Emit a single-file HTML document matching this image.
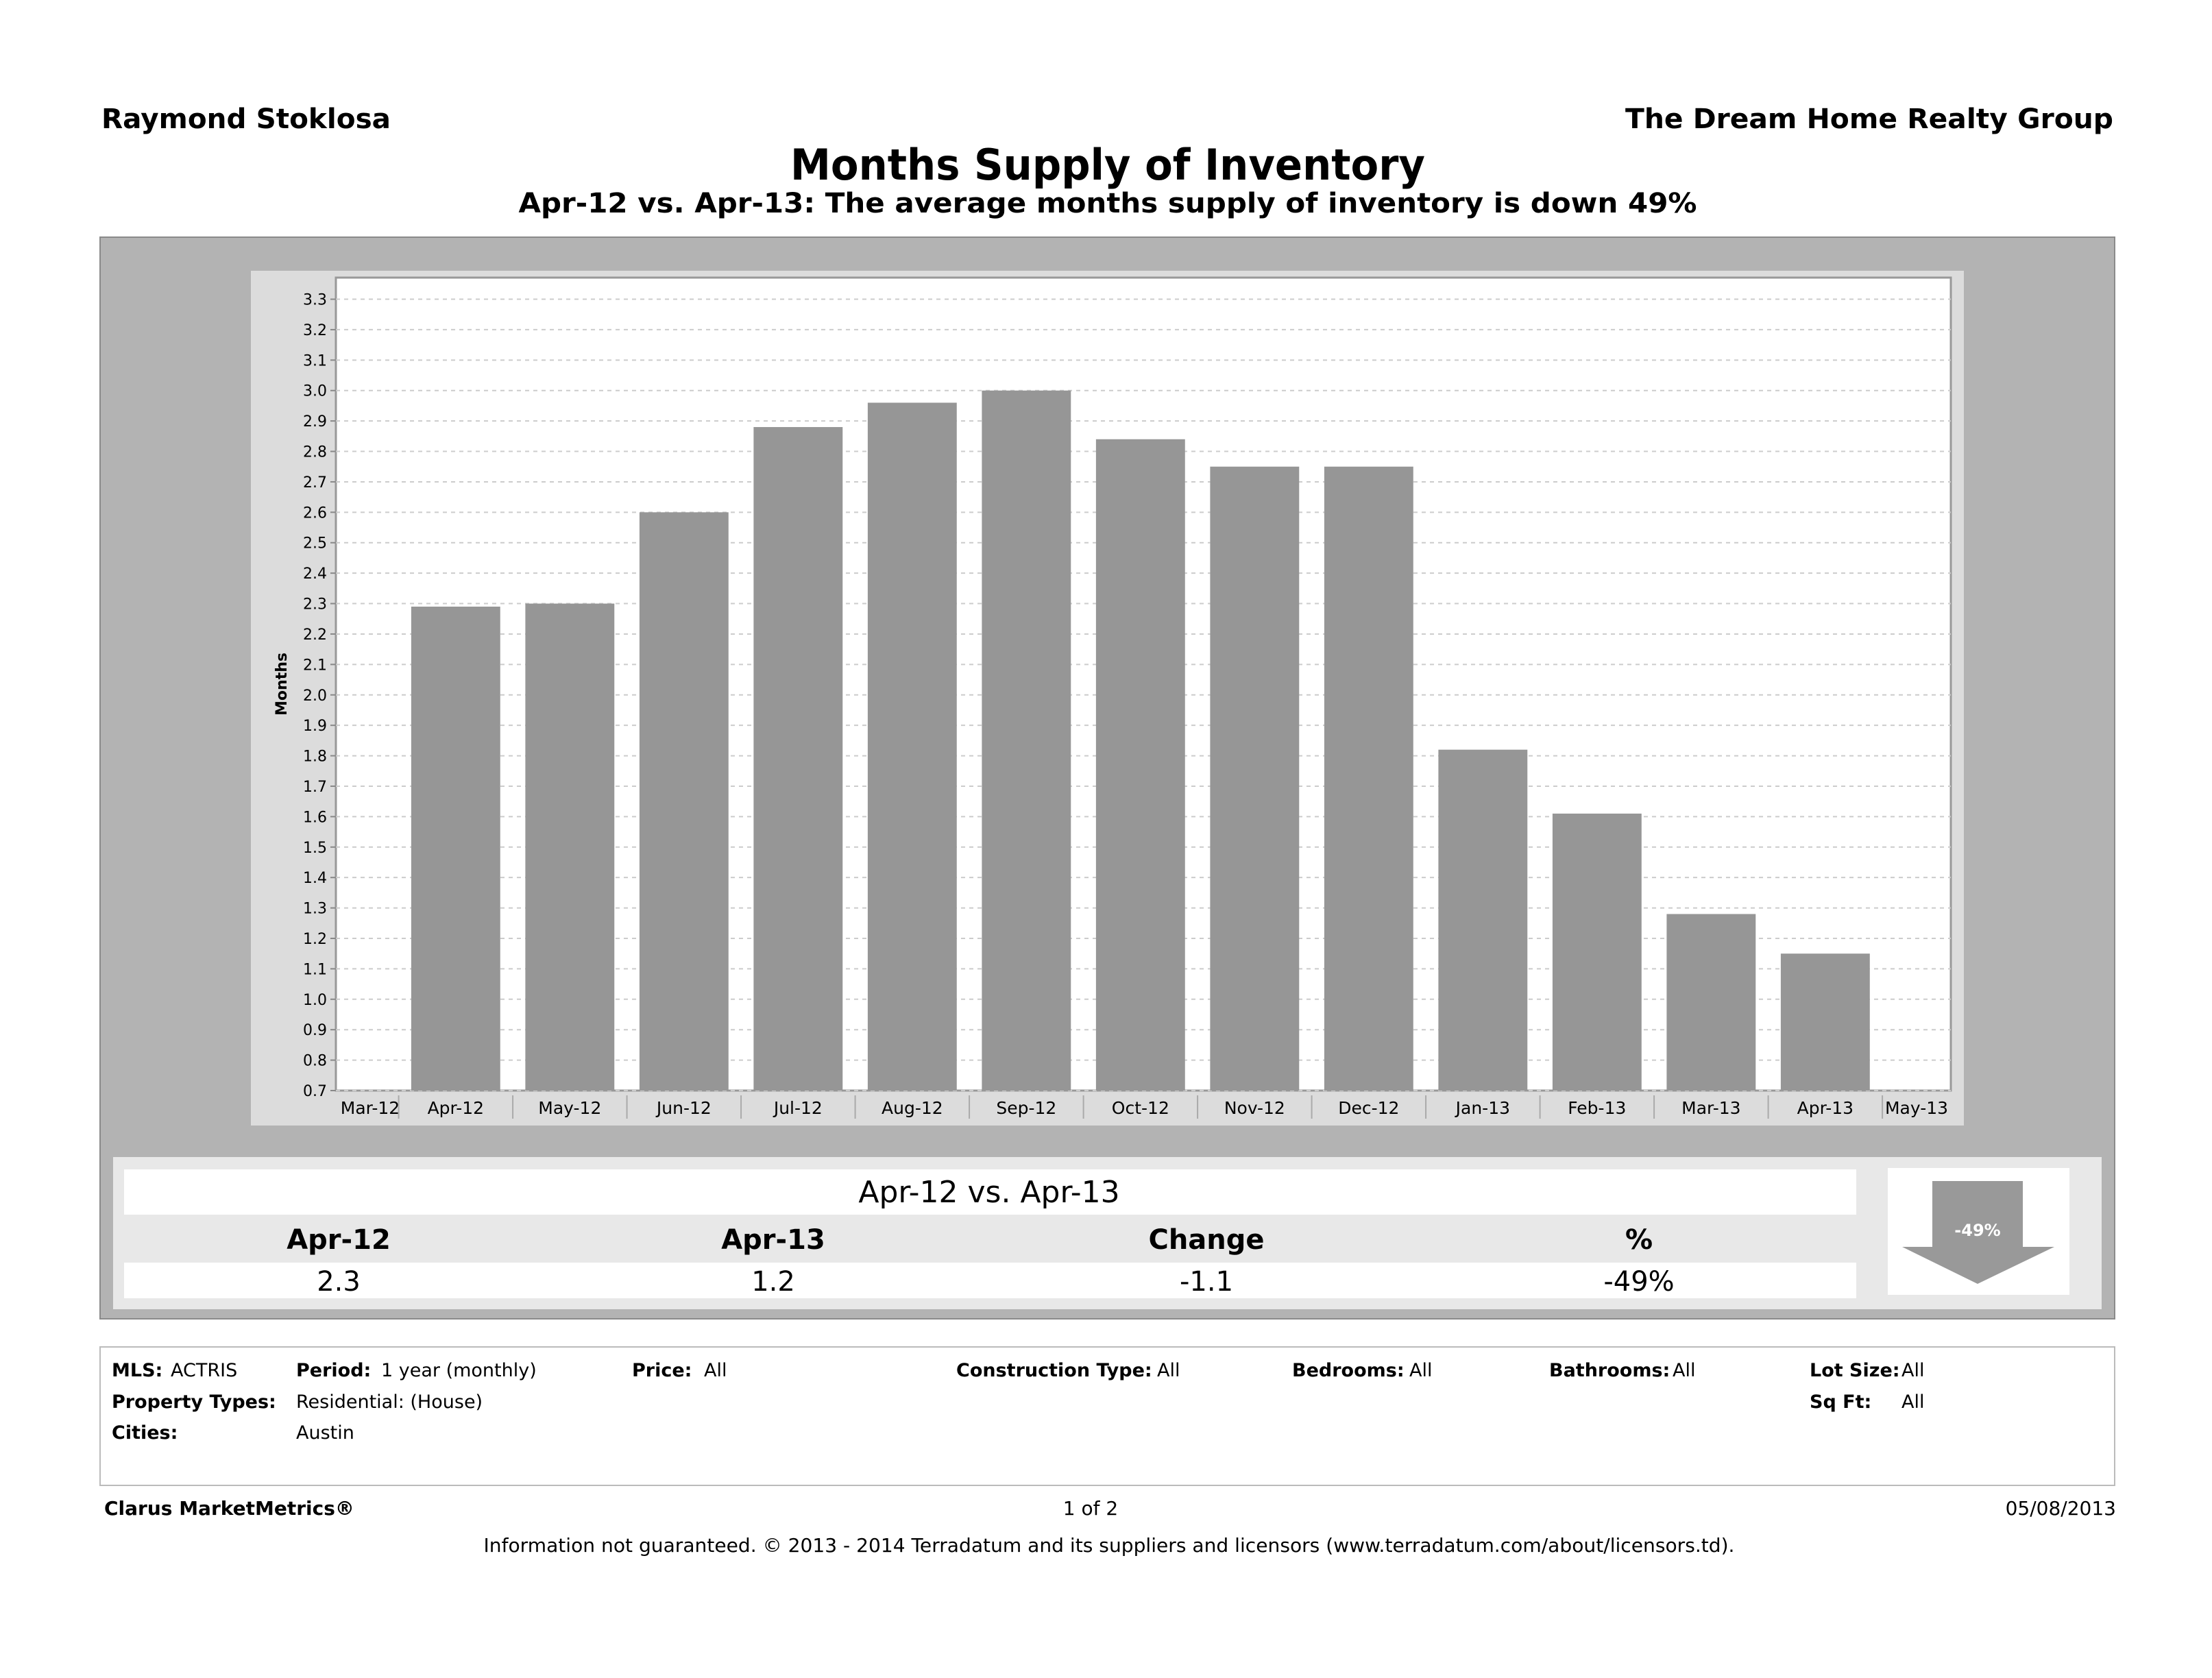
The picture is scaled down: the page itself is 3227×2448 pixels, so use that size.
<!DOCTYPE html>
<html><head><meta charset="utf-8"><style>
html,body{margin:0;padding:0;background:#fff}
svg{display:block;font-family:"DejaVu Sans","Liberation Sans",sans-serif}
</style></head><body>
<svg id="s" width="3227" height="2448" viewBox="0 0 3227 2448" xmlns="http://www.w3.org/2000/svg">
<text x="148" y="187" font-size="40" font-weight="bold" textLength="422" lengthAdjust="spacingAndGlyphs">Raymond Stoklosa</text>
<text x="3083" y="187" font-size="40" font-weight="bold" text-anchor="end" textLength="712" lengthAdjust="spacingAndGlyphs">The Dream Home Realty Group</text>
<text x="1616" y="262" font-size="62" font-weight="bold" text-anchor="middle" textLength="926" lengthAdjust="spacingAndGlyphs">Months Supply of Inventory</text>
<text x="1616" y="310" font-size="40" font-weight="bold" text-anchor="middle" textLength="1719" lengthAdjust="spacingAndGlyphs">Apr-12 vs. Apr-13:  The average months supply of inventory is down 49%</text>

<rect x="146" y="346" width="2939" height="1578" fill="#b3b3b3" stroke="#8a8a8a" stroke-width="2"/>
<rect x="366" y="395" width="2499" height="1247" fill="#dcdcdc"/>
<rect x="490" y="405" width="2356" height="1186" fill="#fff" stroke="#999" stroke-width="3"/>
<g id="grid"></g>
<g id="bars"></g>
<g id="yax"></g>
<g id="xax"></g>
<text transform="translate(418,998) rotate(-90)" font-size="22" font-weight="bold" text-anchor="middle">Months</text>

<rect x="165" y="1688" width="2901" height="222" fill="#e8e8e8"/>
<rect x="181" y="1706" width="2527" height="66" fill="#fff"/>
<text x="1443" y="1754" font-size="44" text-anchor="middle">Apr-12 vs. Apr-13</text>
<text x="494" y="1822" font-size="40" font-weight="bold" text-anchor="middle">Apr-12</text>
<text x="1128" y="1822" font-size="40" font-weight="bold" text-anchor="middle">Apr-13</text>
<text x="1760" y="1822" font-size="40" font-weight="bold" text-anchor="middle">Change</text>
<text x="2391" y="1822" font-size="40" font-weight="bold" text-anchor="middle">%</text>
<rect x="181" y="1842" width="2527" height="52" fill="#fff"/>
<text x="494" y="1883" font-size="40" text-anchor="middle">2.3</text>
<text x="1128" y="1883" font-size="40" text-anchor="middle">1.2</text>
<text x="1760" y="1883" font-size="40" text-anchor="middle">-1.1</text>
<text x="2391" y="1883" font-size="40" text-anchor="middle">-49%</text>
<rect x="2754" y="1704" width="265" height="185" fill="#fff"/>
<polygon points="2819,1723 2951,1723 2951,1819 2997,1819 2885,1873 2775,1819 2819,1819" fill="#999"/>
<text x="2885" y="1803" font-size="24" font-weight="bold" fill="#fff" text-anchor="middle">-49%</text>

<rect x="146" y="1965" width="2939" height="202" fill="#fff" stroke="#bbb" stroke-width="2"/>
<g font-size="27">
<text x="163" y="2008"><tspan font-weight="bold">MLS:</tspan><tspan x="249">ACTRIS</tspan></text>
<text x="432" y="2008"><tspan font-weight="bold">Period:</tspan><tspan x="556">1 year (monthly)</tspan></text>
<text x="922" y="2008"><tspan font-weight="bold">Price:</tspan><tspan x="1027">All</tspan></text>
<text x="1395" y="2008"><tspan font-weight="bold">Construction Type:</tspan><tspan x="1688">All</tspan></text>
<text x="1885" y="2008"><tspan font-weight="bold">Bedrooms:</tspan><tspan x="2056">All</tspan></text>
<text x="2260" y="2008"><tspan font-weight="bold">Bathrooms:</tspan><tspan x="2440">All</tspan></text>
<text x="2640" y="2008"><tspan font-weight="bold">Lot Size:</tspan><tspan x="2774">All</tspan></text>
<text x="163" y="2054" font-weight="bold">Property Types:</text>
<text x="432" y="2054">Residential: (House)</text>
<text x="2640" y="2054"><tspan font-weight="bold">Sq Ft:</tspan><tspan x="2774">All</tspan></text>
<text x="163" y="2099" font-weight="bold">Cities:</text>
<text x="432" y="2099">Austin</text>
</g>
<text x="152" y="2210" font-size="28" font-weight="bold">Clarus MarketMetrics®</text>
<text x="1591" y="2210" font-size="28" text-anchor="middle">1 of 2</text>
<text x="3087" y="2210" font-size="28" text-anchor="end">05/08/2013</text>
<text x="1618" y="2264" font-size="28" text-anchor="middle" textLength="1825" lengthAdjust="spacingAndGlyphs">Information not guaranteed.  © 2013 - 2014 Terradatum and its suppliers and licensors (www.terradatum.com/about/licensors.td).</text>
</svg>
<script>
const categories = ["Mar-12","Apr-12","May-12","Jun-12","Jul-12","Aug-12","Sep-12","Oct-12","Nov-12","Dec-12","Jan-13","Feb-13","Mar-13","Apr-13","May-13"];
const values = [null,2.29,2.30,2.60,2.88,2.96,3.00,2.84,2.75,2.75,1.82,1.61,1.28,1.15,null];
const yTicks = [0.7,0.8,0.9,1.0,1.1,1.2,1.3,1.4,1.5,1.6,1.7,1.8,1.9,2.0,2.1,2.2,2.3,2.4,2.5,2.6,2.7,2.8,2.9,3.0,3.1,3.2,3.3];
const NS="http://www.w3.org/2000/svg";
const L=490,R=2846,T=405,B=1591;
const yMin=0.7,yMax=3.371,iMin=-0.05,iMax=14.1;
function y(v){return B-(v-yMin)/(yMax-yMin)*(B-T);}
function x(i){return L+(i-iMin)/(iMax-iMin)*(R-L);}
function mk(tag,a,p){const e=document.createElementNS(NS,tag);for(const k in a)e.setAttribute(k,a[k]);p.appendChild(e);return e;}
const grid=document.getElementById('grid'),bars=document.getElementById('bars'),yax=document.getElementById('yax'),xax=document.getElementById('xax');
yTicks.forEach(v=>{
  const g=mk('line',{x1:L,x2:R,y1:y(v),y2:y(v),stroke:'#ccc','stroke-width':2,'stroke-dasharray':'6,6'},grid);
  
  
  const tk=mk('line',{x1:L-8,x2:L,y1:y(v),y2:y(v),stroke:'#888','stroke-width':2},yax);
  
  
  const t=mk('text',{x:L-13,y:y(v)+8,'font-size':22,'text-anchor':'end'},yax);
  t.textContent=v.toFixed(1);
  
  
});
const bw=(x(1)-x(0))*0.78;
values.forEach((v,i)=>{
  if(v==null)return;
  const r=mk('rect',{x:x(i)-bw/2,y:y(v),width:bw,height:B-y(v),fill:'#969696'},bars);
  
  
});
categories.forEach((c,i)=>{
  let cx=x(i);
  if(i===0)cx=Math.max(cx,L+50);
  if(i===categories.length-1)cx=Math.min(cx,R-50);
  const t=mk('text',{x:cx,y:1625,'font-size':25,'text-anchor':'middle'},xax);
  t.textContent=c;
  
  
  if(i<categories.length-1){
    const s=mk('line',{x1:x(i+0.5),x2:x(i+0.5),y1:1598,y2:1632,stroke:'#aaa','stroke-width':2},xax);
    
    
  }
});
</script>
</body></html>
